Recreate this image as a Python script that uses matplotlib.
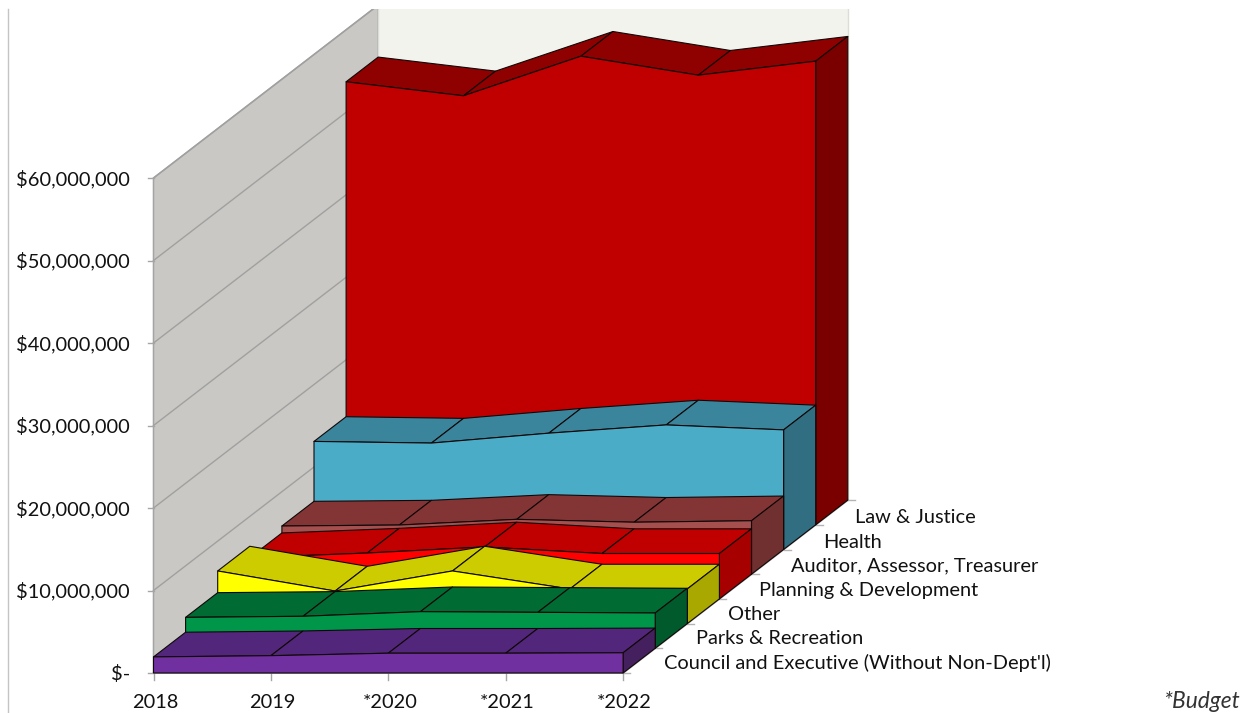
import matplotlib
matplotlib.use("Agg")
import matplotlib.pyplot as plt
from matplotlib.patches import Polygon, Rectangle

plt.rcParams['font.family'] = ['Lato', 'DejaVu Sans']

years = ['2018', '2019', '*2020', '*2021', '*2022']
series_names = ['Council and Executive (Without Non-Dept\'l)', 'Parks & Recreation', 'Other',
                'Planning & Development', 'Auditor, Assessor, Treasurer', 'Health', 'Law & Justice']

# Spending in millions of dollars, front row to back row
council = [1.95, 2.1, 2.4, 2.4, 2.45]
parks = [3.75, 3.88, 4.44, 4.36, 4.28]
other = [6.38, 3.95, 6.38, 4.2, 4.2]
planning = [5.0, 5.56, 6.3, 5.5, 5.5]
auditor = [5.84, 5.96, 6.65, 6.3, 6.48]
health = [13.1, 12.9, 14.1, 15.1, 14.5]
law = [53.7, 52.0, 56.8, 54.5, 56.2]
rows = [council, parks, other, planning, auditor, health, law]

value_ticks = [0, 10, 20, 30, 40, 50, 60]
value_labels = ['$-', '$10,000,000', '$20,000,000', '$30,000,000', '$40,000,000', '$50,000,000', '$60,000,000']

front_colors = ['#7030a0', '#00964a', '#ffff00', '#ff0000', '#a54f4e', '#4bacc8', '#c00000']
top_colors = ['#52267a', '#006b33', '#cccc00', '#c00000', '#833535', '#3a849c', '#8f0000']
side_colors = ['#45205f', '#005a2b', '#a8a800', '#a60000', '#703030', '#316e82', '#7a0000']

ORIGIN_X, ORIGIN_Y = 153.5, 673.0
CAT_STEP = 117.4
DEPTH_DX, DEPTH_DY = 32.1, 24.7
VALUE_SCALE = 8.25


def project(cat, depth, value):
    """Oblique projection of (category, depth row, $M) onto the canvas."""
    return (ORIGIN_X + CAT_STEP * cat + DEPTH_DX * depth,
            ORIGIN_Y - DEPTH_DY * depth - VALUE_SCALE * value)


fig = plt.figure(figsize=(12.55, 7.13), dpi=100)
ax = fig.add_axes([0, 0, 1, 1])
ax.set_xlim(0, 1255)
ax.set_ylim(713, 0)
ax.axis('off')

# Outer chart-area edge
ax.plot([7.5, 7.5], [9, 713], color='#c4c4c4', lw=1.0, zorder=1)

# Walls, cut off at the top of the plot area
n_depth = len(rows)
last = len(years) - 1
clip = Rectangle((0, 9), 1255, 704, transform=ax.transData)
side_wall = Polygon([project(0, 0, 0), project(0, 0, 60), project(0, n_depth, 60), project(0, n_depth, 0)],
                    facecolor='#c9c8c4', edgecolor='#a4a4a4', lw=1.1, zorder=2)
back_wall = Polygon([project(0, n_depth, 0), project(0, n_depth, 60), project(last, n_depth, 60), project(last, n_depth, 0)],
                    facecolor='#f3f3ee', edgecolor='#dcdcd8', lw=1.0, zorder=2)
for wall in (side_wall, back_wall):
    ax.add_patch(wall)
    wall.set_clip_path(clip)

# Gridlines across the side wall and left-hand value ticks
for v in value_ticks:
    p0, p1 = project(0, 0, v), project(0, n_depth, v)
    line, = ax.plot([p0[0], p1[0]], [p0[1], p1[1]], color='#a0a0a0', lw=1.0, zorder=3)
    line.set_clip_path(clip)
    ax.plot([p0[0] - 6, p0[0]], [p0[1], p0[1]], color='#a6a6a6', lw=1.0, zorder=3)

# Floor edges and their ticks
f0, f1, f2 = project(0, 0, 0), project(last, 0, 0), project(last, n_depth, 0)
ax.plot([f0[0], f1[0], f2[0]], [f0[1], f1[1], f2[1]], color='#b4b4b4', lw=1.4, zorder=3)
for i in range(len(years)):
    x, y = project(i, 0, 0)
    ax.plot([x, x], [y, y + 7], color='#a6a6a6', lw=1.0, zorder=3)
for d in range(n_depth + 1):
    x, y = project(last, d, 0)
    ax.plot([x, x + 7], [y, y], color='#b4b4b4', lw=1.0, zorder=3)

# Ribbons, painted from the back row forward
z = 10
edge = dict(edgecolor='#100808', lw=0.8, joinstyle='round')
for d in range(n_depth - 1, -1, -1):
    vals = rows[d]
    cats = range(len(vals))
    for i in range(last):
        quad = [project(i, d, vals[i]), project(i + 1, d, vals[i + 1]),
                project(i + 1, d + 1, vals[i + 1]), project(i, d + 1, vals[i])]
        ax.add_patch(Polygon(quad, facecolor=top_colors[d], zorder=z, **edge))
    side = [project(last, d, 0), project(last, d, vals[last]),
            project(last, d + 1, vals[last]), project(last, d + 1, 0)]
    ax.add_patch(Polygon(side, facecolor=side_colors[d], zorder=z, **edge))
    face = [project(i, d, vals[i]) for i in cats] + [project(last, d, 0), project(0, d, 0)]
    ax.add_patch(Polygon(face, facecolor=front_colors[d], zorder=z + 1, **edge))
    z += 2

# Text
text_color = '#111111'
FS = 14.4
for v, label in zip(value_ticks, value_labels):
    ax.text(130, project(0, 0, v)[1] + 1, label, ha='right', va='center', fontsize=FS, color=text_color)
for i, label in enumerate(years):
    ax.text(project(i, 0, 0)[0] + 1.5, 702, label, ha='center', va='center', fontsize=FS, color=text_color)
for d, name in enumerate(series_names):
    x, y = project(last, d, 0)
    ax.text(x + 41 - 0.35 * d, y - 10 + 0.5 * d, name, ha='left', va='center', fontsize=FS, color=text_color)
ax.text(1240, 702, '*Budget', ha='right', va='center', fontsize=16.4, style='italic', color='#333333')

fig.savefig('out.png', dpi=100)
